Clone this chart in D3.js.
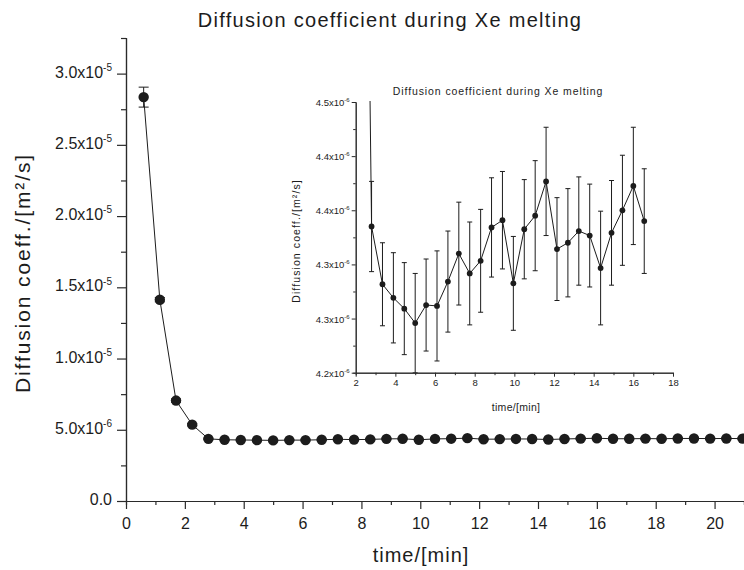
<!DOCTYPE html>
<html>
<head>
<meta charset="utf-8">
<script src="https://cdn.jsdelivr.net/npm/d3@7"></script>
<style>
  html, body { margin: 0; padding: 0; background: #fff; }
  svg { display: block; font-family: "Liberation Sans", Arial, sans-serif; }
</style>
</head>
<body>
<svg id="chart" width="744" height="570"></svg>
<script>
// ---------------- DATA ----------------
const times = [0.60, 1.15, 1.70, 2.25, 2.80, 3.35, 3.90, 4.45, 5.00, 5.55,
               6.10, 6.65, 7.20, 7.75, 8.30, 8.85, 9.40, 9.95, 10.50, 11.05,
               11.60, 12.15, 12.70, 13.25, 13.80, 14.35, 14.90, 15.45, 16.00, 16.55,
               17.10, 17.65, 18.20, 18.75, 19.30, 19.85, 20.40, 20.95];
// diffusion coefficient, units of 1e-6 m^2/s
const diffValues = [28.35, 14.13, 7.05, 5.36, 4.362, 4.298, 4.283, 4.271, 4.255, 4.275,
                    4.274, 4.301, 4.332, 4.310, 4.324, 4.361, 4.369, 4.299, 4.359, 4.374,
                    4.412, 4.337, 4.344, 4.357, 4.352, 4.316, 4.355, 4.380, 4.407, 4.368,
                    4.37, 4.38, 4.37, 4.39, 4.39, 4.38, 4.39, 4.38];
// error (half-width), units of 1e-6 m^2/s
const diffErrors = [0.70, 0.15, 0.12, 0.08, 0.050, 0.046, 0.050, 0.051, 0.055, 0.051,
                    0.061, 0.056, 0.057, 0.057, 0.057, 0.055, 0.054, 0.052, 0.055, 0.061,
                    0.060, 0.057, 0.060, 0.060, 0.057, 0.063, 0.058, 0.061, 0.065, 0.058,
                    0.06, 0.06, 0.06, 0.06, 0.06, 0.06, 0.06, 0.06];
// points shown in the inset (index range)
const insetFirst = 3, insetLast = 29;

const mainXTicks = [0, 2, 4, 6, 8, 10, 12, 14, 16, 18, 20];
const mainXMinor = [1, 3, 5, 7, 9, 11, 13, 15, 17, 19, 21];
const mainYTicks = [0, 5, 10, 15, 20, 25, 30];
const mainYTickLabels = ["0.0", "5.0x10^-6", "1.0x10^-5", "1.5x10^-5", "2.0x10^-5", "2.5x10^-5", "3.0x10^-5"];
const mainYMinor = [2.5, 7.5, 12.5, 17.5, 22.5, 27.5, 32.5];

const insetXTicks = [2, 4, 6, 8, 10, 12, 14, 16, 18];
const insetXMinor = [3, 5, 7, 9, 11, 13, 15, 17];
const insetYTicks = [4.20, 4.26, 4.32, 4.38, 4.44, 4.50];
const insetYTickLabels = ["4.2x10^-6", "4.3x10^-6", "4.3x10^-6", "4.4x10^-6", "4.4x10^-6", "4.5x10^-6"];
const insetYMinor = [4.23, 4.29, 4.35, 4.41, 4.47];

const titleText = "Diffusion coefficient during Xe melting";
const xTitleText = "time/[min]";
const yTitleText = "Diffusion coeff./[m²/s]";

// ---------------- DRAW ----------------
const svg = d3.select("#chart");
const INK = "#1c1c1c";
const AX = "#2a2a2a";

const points = times.map((t, i) => ({ t, v: diffValues[i], e: diffErrors[i] }));

function writeLabel(textSel, label, baseSize, supSize) {
  textSel.text(null);
  const parts = label.split("^");
  textSel.append("tspan").attr("font-size", baseSize).text(parts[0]);
  if (parts.length > 1) {
    textSel.append("tspan").attr("font-size", supSize).attr("dy", -baseSize * 0.42).text(parts[1]);
  }
}

function styleAxis(g, width) {
  g.select(".domain").attr("stroke", AX).attr("stroke-width", width);
  g.selectAll(".tick line").attr("stroke", AX).attr("stroke-width", width);
  g.selectAll(".tick text").attr("fill", INK);
}

// ===== MAIN CHART =====
const mx = d3.scaleLinear().domain([0, 21]).range([126, 744]);
const my = d3.scaleLinear().domain([0, 32.5]).range([501, 38]);

const gxMinor = svg.append("g").attr("transform", `translate(0,${my(0)})`)
  .call(d3.axisBottom(mx).tickValues(mainXMinor).tickSize(4).tickFormat(""));
styleAxis(gxMinor, 1.2);
const gyMinor = svg.append("g").attr("transform", `translate(${mx(0)},0)`)
  .call(d3.axisLeft(my).tickValues(mainYMinor).tickSize(5).tickFormat(""));
styleAxis(gyMinor, 1.2);

const gx = svg.append("g").attr("transform", `translate(0,${my(0)})`)
  .call(d3.axisBottom(mx).tickValues(mainXTicks).tickSize(8).tickPadding(9).tickSizeOuter(0));
styleAxis(gx, 1.2);
gx.selectAll(".tick text").attr("font-size", 16);

const gy = svg.append("g").attr("transform", `translate(${mx(0)},0)`)
  .call(d3.axisLeft(my).tickValues(mainYTicks).tickSize(9).tickPadding(5).tickSizeOuter(0));
styleAxis(gy, 1.2);
gy.selectAll(".tick text").each(function(d, i) {
  writeLabel(d3.select(this), mainYTickLabels[i], 16, 10);
}).attr("dy", "0.35em");

svg.append("path")
  .datum(points)
  .attr("fill", "none")
  .attr("stroke", INK)
  .attr("stroke-width", 1)
  .attr("d", d3.line().x(d => mx(d.t)).y(d => my(d.v)));

const mErr = svg.append("g").attr("stroke", INK).attr("stroke-width", 1);
points.forEach(d => {
  mErr.append("line").attr("x1", mx(d.t)).attr("x2", mx(d.t)).attr("y1", my(d.v - d.e)).attr("y2", my(d.v + d.e));
  [d.v - d.e, d.v + d.e].forEach(v => {
    mErr.append("line").attr("x1", mx(d.t) - 5).attr("x2", mx(d.t) + 5).attr("y1", my(v)).attr("y2", my(v));
  });
});

svg.append("g").selectAll("circle").data(points).join("circle")
  .attr("cx", d => mx(d.t)).attr("cy", d => my(d.v)).attr("r", 5.2)
  .attr("fill", INK);

svg.append("text").attr("x", 390).attr("y", 27).attr("text-anchor", "middle")
  .attr("font-size", 20).attr("letter-spacing", 1.3).attr("fill", INK).text(titleText);
svg.append("text").attr("x", 421).attr("y", 562).attr("text-anchor", "middle")
  .attr("font-size", 20).attr("letter-spacing", 1).attr("fill", INK).text(xTitleText);
svg.append("text").attr("transform", "translate(30,273) rotate(-90)").attr("text-anchor", "middle")
  .attr("font-size", 21).attr("letter-spacing", 1.9).attr("fill", INK).text(yTitleText);

// ===== INSET =====
const ix = d3.scaleLinear().domain([2, 18]).range([355.7, 673]);
const iy = d3.scaleLinear().domain([4.2, 4.5]).range([372.7, 102]);

const ixMinor = svg.append("g").attr("transform", `translate(0,${iy(4.2)})`)
  .call(d3.axisBottom(ix).tickValues(insetXMinor).tickSize(2.5).tickFormat(""));
styleAxis(ixMinor, 1);
const iyMinor = svg.append("g").attr("transform", `translate(${ix(2)},0)`)
  .call(d3.axisLeft(iy).tickValues(insetYMinor).tickSize(2.5).tickFormat(""));
styleAxis(iyMinor, 1);

const igx = svg.append("g").attr("transform", `translate(0,${iy(4.2)})`)
  .call(d3.axisBottom(ix).tickValues(insetXTicks).tickSize(4).tickPadding(3).tickSizeOuter(0));
styleAxis(igx, 1);
igx.selectAll(".tick text").attr("font-size", 9.5);

const igy = svg.append("g").attr("transform", `translate(${ix(2)},0)`)
  .call(d3.axisLeft(iy).tickValues(insetYTicks).tickSize(4).tickPadding(2).tickSizeOuter(0));
styleAxis(igy, 1);
igy.selectAll(".tick text").each(function(d, i) {
  writeLabel(d3.select(this), insetYTickLabels[i], 9.5, 6);
}).attr("dy", "0.35em");

svg.append("clipPath").attr("id", "insetClip").append("rect")
  .attr("x", ix(2)).attr("y", iy(4.5) - 1).attr("width", ix(18) - ix(2)).attr("height", iy(4.2) - iy(4.5) + 1);

const insetPts = points.slice(insetFirst, insetLast + 1);
const ig = svg.append("g").attr("clip-path", "url(#insetClip)");
ig.append("path").datum(insetPts)
  .attr("fill", "none").attr("stroke", INK).attr("stroke-width", 1)
  .attr("d", d3.line().x(d => ix(d.t)).y(d => iy(d.v)));
const iErr = ig.append("g").attr("stroke", INK).attr("stroke-width", 1);
insetPts.slice(1).forEach(d => {
  iErr.append("line").attr("x1", ix(d.t)).attr("x2", ix(d.t)).attr("y1", iy(d.v - d.e)).attr("y2", iy(d.v + d.e));
  [d.v - d.e, d.v + d.e].forEach(v => {
    iErr.append("line").attr("x1", ix(d.t) - 2.5).attr("x2", ix(d.t) + 2.5).attr("y1", iy(v)).attr("y2", iy(v));
  });
});
ig.append("g").selectAll("circle").data(insetPts.slice(1)).join("circle")
  .attr("cx", d => ix(d.t)).attr("cy", d => iy(d.v)).attr("r", 2.9).attr("fill", INK);

svg.append("text").attr("x", 498).attr("y", 95).attr("text-anchor", "middle")
  .attr("font-size", 10.5).attr("letter-spacing", 0.9).attr("fill", INK).text(titleText);
svg.append("text").attr("x", 516).attr("y", 411).attr("text-anchor", "middle")
  .attr("font-size", 10.5).attr("letter-spacing", 0.3).attr("fill", INK).text(xTitleText);
svg.append("text").attr("transform", "translate(300,241) rotate(-90)").attr("text-anchor", "middle")
  .attr("font-size", 10.5).attr("letter-spacing", 1.1).attr("fill", INK).text(yTitleText);
</script>
</body>
</html>
